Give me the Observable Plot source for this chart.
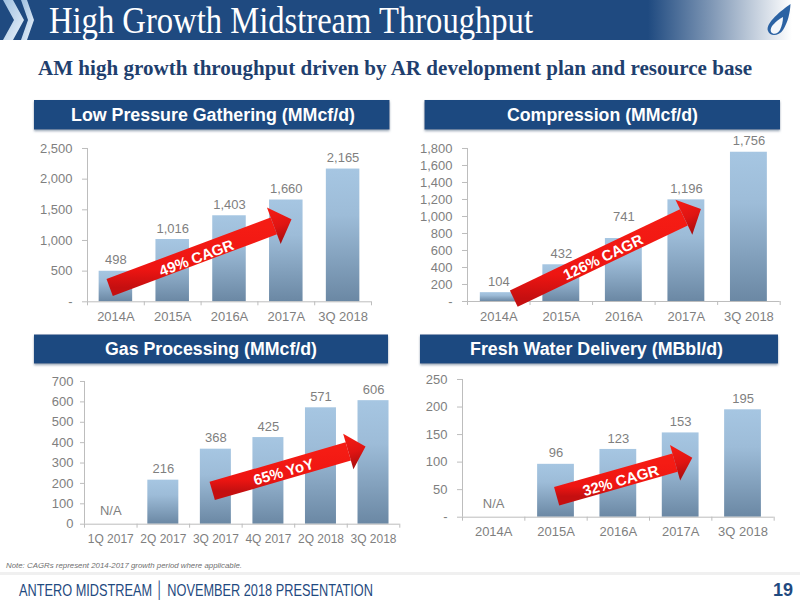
<!DOCTYPE html>
<html>
<head>
<meta charset="utf-8">
<script src="https://cdn.jsdelivr.net/npm/d3@7"></script>
<script src="https://cdn.jsdelivr.net/npm/@observablehq/plot@0.6"></script>
<style>
  html, body { margin: 0; padding: 0; background: #fff; }
  #slide { position: relative; width: 800px; height: 600px; overflow: hidden; background: #fff; }
  #slide > svg { position: absolute; left: 0; top: 0; }
  #slide .panel { position: absolute; }
  #slide .panel svg { display: block; overflow: visible; }
</style>
</head>
<body>
<div id="slide">
<svg width="800" height="600" viewBox="0 0 800 600" font-family="Liberation Sans, Arial, sans-serif">
  <defs>
    <linearGradient id="headerGrad" x1="0" x2="1" y1="0" y2="0">
      <stop offset="0.81" stop-color="#1f4a80"/>
      <stop offset="0.89" stop-color="#8098b6"/>
      <stop offset="0.99" stop-color="#ffffff"/>
    </linearGradient>
    <linearGradient id="chevGrad" x1="0" x2="1" y1="0" y2="1">
      <stop offset="0" stop-color="#9fc0e0"/>
      <stop offset="1" stop-color="#eaf2fa"/>
    </linearGradient>
    <linearGradient id="barGrad" x1="0" x2="0" y1="0" y2="1">
      <stop offset="0" stop-color="#a6c6e2"/>
      <stop offset="0.35" stop-color="#9dbcd8"/>
      <stop offset="1" stop-color="#6b88a4"/>
    </linearGradient>
    <linearGradient id="arrowGrad" x1="0" x2="0" y1="0" y2="1">
      <stop offset="0" stop-color="#f51c14"/>
      <stop offset="0.7" stop-color="#ee1512"/>
      <stop offset="1" stop-color="#c50f10"/>
    </linearGradient>
    <linearGradient id="headGrad" x1="0" x2="0" y1="0" y2="1">
      <stop offset="0" stop-color="#f61d14"/>
      <stop offset="0.55" stop-color="#e01412"/>
      <stop offset="1" stop-color="#a50d0e"/>
    </linearGradient>
    <filter id="boxShadow" x="-5%" y="-10%" width="110%" height="130%">
      <feDropShadow dx="0" dy="1.5" stdDeviation="1.2" flood-color="#6f8298" flood-opacity="0.75"/>
    </filter>
  </defs>

  <rect x="0" y="0" width="800" height="40" fill="url(#headerGrad)"/>
  <polygon points="3,0 13,0 24,20 13,40 3,40 14,20" fill="url(#chevGrad)"/>
  <polygon points="21,0 27,0 34,20 27,40 21,40 28,20" fill="url(#chevGrad)"/>
  <path d="M790.5,4 C782,10 765,23 768,31 C770,37 779,36 783,30 C788,22 790,13 790.5,4 Z" fill="#2b62a3"/>
  <path d="M783,17 C776,21 769,27 771,32 C773,35 778,34 780,30 C782,26 783,21 783,17 Z" fill="#f4f7fb"/>
  <text x="49" y="33" font-family="Liberation Serif, serif" font-size="37" fill="#ffffff" textLength="484" lengthAdjust="spacingAndGlyphs">High Growth Midstream Throughput</text>

  <text x="38" y="75" font-family="Liberation Serif, serif" font-weight="bold" font-size="22" fill="#1f3f6e" textLength="714" lengthAdjust="spacingAndGlyphs">AM high growth throughput driven by AR development plan and resource base</text>

  <rect x="34" y="100" width="355.500" height="29.500" fill="#1f4a80" filter="url(#boxShadow)"/>
  <rect x="424.500" y="100" width="355.500" height="29.500" fill="#1f4a80" filter="url(#boxShadow)"/>
  <rect x="34" y="334.500" width="354" height="29" fill="#1f4a80" filter="url(#boxShadow)"/>
  <rect x="420" y="334.500" width="358" height="29" fill="#1f4a80" filter="url(#boxShadow)"/>
  <g fill="#ffffff" font-weight="bold" font-size="17.500" text-anchor="middle">
    <text x="213" y="121" textLength="284" lengthAdjust="spacingAndGlyphs">Low Pressure Gathering (MMcf/d)</text>
    <text x="602.500" y="121" textLength="191" lengthAdjust="spacingAndGlyphs">Compression (MMcf/d)</text>
    <text x="211" y="355" textLength="212" lengthAdjust="spacingAndGlyphs">Gas Processing (MMcf/d)</text>
    <text x="596.500" y="355" textLength="253" lengthAdjust="spacingAndGlyphs">Fresh Water Delivery (MBbl/d)</text>
  </g>

  <text x="6" y="568" font-style="italic" font-size="7" fill="#6f6f6f" textLength="236" lengthAdjust="spacingAndGlyphs">Note:  CAGRs represent 2014-2017 growth period where applicable.</text>
  <rect x="0" y="572" width="800" height="3" fill="#f0f0f0"/>
  <text x="19" y="596" font-family="Liberation Sans Narrow, Liberation Sans, sans-serif" fill="#1f4a80" font-size="17" textLength="354" lengthAdjust="spacingAndGlyphs">ANTERO MIDSTREAM │ NOVEMBER 2018 PRESENTATION</text>
  <text x="773" y="596" font-weight="bold" font-size="18" fill="#1f4a80">19</text>
</svg>
</div>
<script>
// Chart values
const gatheringCategories = ["2014A", "2015A", "2016A", "2017A", "3Q 2018"];
const gatheringValues = [498, 1016, 1403, 1660, 2165];
const gatheringLabelAt = [498, 1016, 1403, 1660, 2165];
const gatheringTicks = [0, 500, 1000, 1500, 2000, 2500];
const gatheringArrowX = [0.39, 3.28];
const gatheringArrowY = [233, 1239];
const gatheringNoteAt = [1.92, 712];

const compressionCategories = ["2014A", "2015A", "2016A", "2017A", "3Q 2018"];
const compressionValues = [104, 432, 741, 1196, 1756];
const compressionLabelAt = [104, 432, 862, 1196, 1756];
const compressionTicks = [0, 200, 400, 600, 800, 1000, 1200, 1400, 1600, 1800];
const compressionArrowX = [0.74, 3.46];
const compressionArrowY = [35, 991];
const compressionNoteAt = [2.17, 517];

const processingCategories = ["1Q 2017", "2Q 2017", "3Q 2017", "4Q 2017", "2Q 2018", "3Q 2018"];
const processingValues = [null, 216, 368, 425, 571, 606];
const processingLabelAt = [0, 216, 368, 425, 571, 606];
const processingTicks = [0, 100, 200, 300, 400, 500, 600, 700];
const processingArrowX = [2.43, 5.02];
const processingArrowY = [163, 357];
const processingNoteAt = [3.79, 255];

const waterCategories = ["2014A", "2015A", "2016A", "2017A", "3Q 2018"];
const waterValues = [null, 96, 123, 153, 195];
const waterLabelAt = [0, 96, 123, 153, 195];
const waterTicks = [0, 50, 100, 150, 200, 250];
const waterArrowX = [1.51, 3.41];
const waterArrowY = [38, 99];
const waterNoteAt = [2.54, 66];

const panels = [
  {categories: gatheringCategories, values: gatheringValues, labelAt: gatheringLabelAt, ticks: gatheringTicks, arrowX: gatheringArrowX, arrowY: gatheringArrowY, noteAt: gatheringNoteAt, note: "49% CAGR",
   frame: [86.7, 370.7, 147.7, 301], angle: -20.6, zero: "-", body: 18, head: 39, catSize: 13, tickSize: 5, tickPadding: 10},
  {categories: compressionCategories, values: compressionValues, labelAt: compressionLabelAt, ticks: compressionTicks, arrowX: compressionArrowX, arrowY: compressionArrowY, noteAt: compressionNoteAt, note: "126% CAGR",
   frame: [467.3, 780, 148, 301], angle: -25.6, zero: "-", body: 18, head: 39, catSize: 13, tickSize: 5, tickPadding: 10},
  {categories: processingCategories, values: processingValues, labelAt: processingLabelAt, ticks: processingTicks, arrowX: processingArrowX, arrowY: processingArrowY, noteAt: processingNoteAt, note: "65% YoY",
   frame: [84, 399.3, 381.3, 524], angle: -16.1, zero: "0", body: 19, head: 37, catSize: 12, tickSize: 4, tickPadding: 7},
  {categories: waterCategories, values: waterValues, labelAt: waterLabelAt, ticks: waterTicks, arrowX: waterArrowX, arrowY: waterArrowY, noteAt: waterNoteAt, note: "32% CAGR",
   frame: [462.3, 774, 379.3, 517], angle: -16, zero: "-", body: 19, head: 37, catSize: 13, tickSize: 5, tickPadding: 10}
];

const margin = {left: 60, right: 20, top: 26, bottom: 30};
const axisColor = "#bdbdbd";
const textColor = "#7f7f7f";

// Arrow head: triangle whose base is centred on the origin, pointing along +x
const headSymbol = {
  draw(context, size) {
    const r = Math.sqrt(size / Math.PI);
    context.moveTo(0, -r);
    context.lineTo(r * 0.97, 0);
    context.lineTo(0, r);
    context.closePath();
  }
};

const slide = document.getElementById("slide");

for (const p of panels) {
  const [x0, x1, y0, y1] = p.frame;
  const n = p.categories.length;
  const rows = p.categories.map((category, i) => ({i, category, value: p.values[i], labelAt: p.labelAt[i]}));
  const bars = rows.filter(d => d.value != null);
  const zeroFormat = d => d === 0 ? p.zero : d3.format(",")(d);

  const chart = Plot.plot({
    width: x1 - x0 + margin.left + margin.right,
    height: y1 - y0 + margin.top + margin.bottom,
    marginLeft: margin.left,
    marginRight: margin.right,
    marginTop: margin.top,
    marginBottom: margin.bottom,
    style: {background: "transparent", fontFamily: "Liberation Sans, Arial, sans-serif", overflow: "visible"},
    x: {type: "linear", domain: [0, n], axis: null},
    y: {domain: [0, p.ticks[p.ticks.length - 1]], axis: null},
    marks: [
      Plot.rect(bars, {
        x1: d => d.i + 0.205,
        x2: d => d.i + 0.795,
        y1: () => 0,
        y2: "value",
        fill: "url(#barGrad)"
      }),
      Plot.ruleX([0], {stroke: axisColor}),
      Plot.ruleY([0], {stroke: axisColor}),
      Plot.axisY({
        ticks: p.ticks, tickFormat: zeroFormat, label: null,
        tickSize: p.tickSize, tickPadding: p.tickPadding, stroke: axisColor, fill: textColor, fontSize: 13
      }),
      Plot.axisX({
        ticks: d3.range(n + 1), tickFormat: () => "", label: null,
        tickSize: 4, stroke: axisColor
      }),
      Plot.axisX({
        ticks: d3.range(n).map(i => i + 0.5), tickFormat: v => p.categories[Math.floor(v)], label: null,
        tickSize: 0, tickPadding: 10, fill: textColor, fontSize: p.catSize
      }),
      Plot.text(bars, {
        x: d => d.i + 0.5, y: "labelAt", text: d => d3.format(",")(d.value),
        dy: -11, fill: textColor, fontSize: 13
      }),
      Plot.text(rows.filter(d => d.value == null), {
        x: d => d.i + 0.5, y: "labelAt", text: () => "N/A",
        dy: -13, fill: textColor, fontSize: 13
      }),
      Plot.link([p], {
        x1: d => d.arrowX[0], y1: d => d.arrowY[0],
        x2: d => d.arrowX[1], y2: d => d.arrowY[1],
        stroke: "url(#arrowGrad)", strokeWidth: p.body, strokeLinecap: "butt"
      }),
      Plot.dot([p], {
        x: d => d.arrowX[1], y: d => d.arrowY[1],
        symbol: headSymbol, r: p.head / 2, rotate: p.angle,
        fill: "url(#headGrad)", stroke: "none"
      }),
      Plot.text([p], {
        x: d => d.noteAt[0], y: d => d.noteAt[1], text: "note",
        rotate: p.angle, fill: "#ffffff", fontSize: 15, fontWeight: "bold"
      })
    ]
  });

  const holder = document.createElement("div");
  holder.className = "panel";
  holder.style.left = (x0 - margin.left) + "px";
  holder.style.top = (y0 - margin.top) + "px";
  holder.appendChild(chart);
  slide.appendChild(holder);
}
</script>
</body>
</html>
